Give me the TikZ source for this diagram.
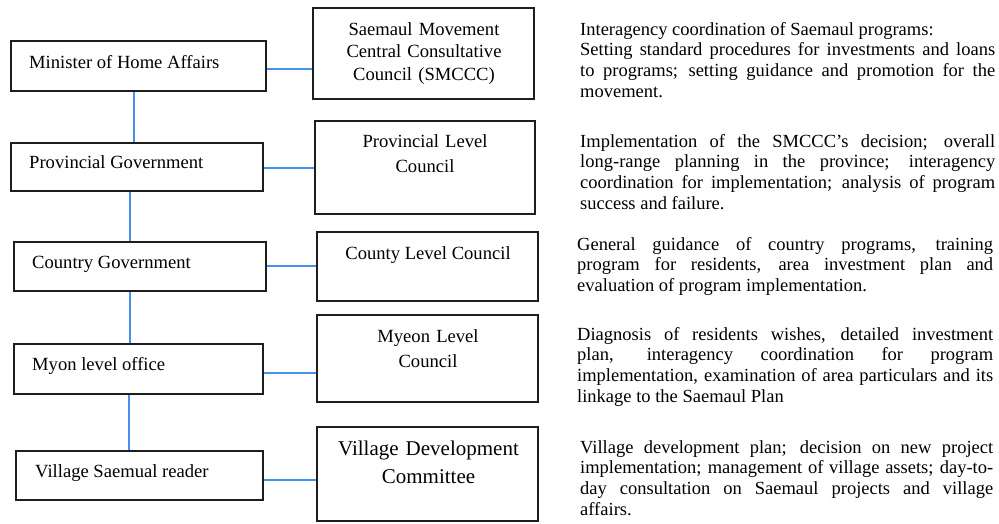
\documentclass[tikz,border=0pt]{standalone}
\usepackage{fontspec}
\setmainfont{Liberation Serif}
\usetikzlibrary{calc}
\definecolor{conblue}{RGB}{70,145,235}
\definecolor{boxgray}{RGB}{30,30,30}
\newcommand{\parset}{\parindent=0pt\tolerance=10000\hyphenpenalty=10000\emergencystretch=20pt\strut}
\begin{document}
\begin{tikzpicture}[x=1pt,y=-1pt]
\tikzset{
  box/.style={draw=boxgray,line width=1.9pt,inner sep=0pt},
  conn/.style={draw=conblue,line width=2.2pt},
  ltext/.style={anchor=base west,inner sep=0pt,font=\fontsize{18.6}{21}\selectfont},
  btext/.style={anchor=north,inner sep=0pt,align=center,text width=215pt,font=\fontsize{18.6}{#1}\selectfont},
  ptext/.style={anchor=north west,inner sep=0pt,align=justify,text width=#1,font=\fontsize{18.5}{20.7}\selectfont}
}
\useasboundingbox[fill=white] (0,0) rectangle (999,523);

% left boxes
\node[box,minimum width=255pt,minimum height=50pt] (l1) at (138.5,66) {};
\node[box,minimum width=252pt,minimum height=48pt] (l2) at (137,167) {};
\node[box,minimum width=252pt,minimum height=49pt] (l3) at (140,266.5) {};
\node[box,minimum width=249pt,minimum height=50pt] (l4) at (138.5,369) {};
\node[box,minimum width=247pt,minimum height=49pt] (l5) at (139.5,475.5) {};

\node[ltext] (t1) at (29,68) {Minister of Home Affairs};
\node[ltext] (t2) at (29,168) {Provincial Government};
\node[ltext] (t3) at (32,268) {Country Government};
\node[ltext] (t4) at (32,370) {Myon level office};
\node[ltext] (t5) at (35,477) {Village Saemual reader};

% right boxes
\node[box,minimum width=221pt,minimum height=91pt] (r1) at (423.5,53.5) {};
\node[box,minimum width=220pt,minimum height=93pt] (r2) at (425,167.5) {};
\node[box,minimum width=221pt,minimum height=69pt] (r3) at (427.5,266.5) {};
\node[box,minimum width=221pt,minimum height=87pt] (r4) at (427.5,358.5) {};
\node[box,minimum width=221pt,minimum height=94pt] (r5) at (427.5,474) {};

\node[btext=22.5] (u1) at (424,19.25) {\strut Saemaul Movement\\Central Consultative\\Council (SMCCC)};
\node[btext=25] (u2) at (425,129.5) {\strut Provincial Level\\Council};
\node[anchor=base,inner sep=0pt,font=\fontsize{18.6}{21}\selectfont] (u3) at (428,259) {County Level Council};
\node[btext=25] (u4) at (428,324.5) {\strut Myeon Level\\Council};
\node[btext=28,font=\fontsize{21}{28}\selectfont] (u5) at (428.5,435.4) {\strut Village Development\\Committee};

% connectors
\draw[conn] ([yshift=-3pt]l1.east) -- ([yshift=-3pt]l1.east -| r1.west);
\draw[conn] ([yshift=-1pt]l2.east) -- ([yshift=-1pt]l2.east -| r2.west);
\draw[conn] ([yshift=0.5pt]l3.east) -- ([yshift=0.5pt]l3.east -| r3.west);
\draw[conn] ([yshift=-4pt]l4.east) -- ([yshift=-4pt]l4.east -| r4.west);
\draw[conn] ([yshift=-4.5pt]l5.east) -- ([yshift=-4.5pt]l5.east -| r5.west);

\draw[conn] ([xshift=-4.5pt]l1.south) -- ([xshift=-4.5pt]l1.south |- l2.north);
\draw[conn] ([xshift=-7pt]l2.south) -- ([xshift=-7pt]l2.south |- l3.north);
\draw[conn] ([xshift=-10pt]l3.south) -- ([xshift=-10pt]l3.south |- l4.north);
\draw[conn] ([xshift=-9.5pt]l4.south) -- ([xshift=-9.5pt]l4.south |- l5.north);

% descriptions
\node[ptext=415pt] (p1) at (580,20.5) {\parset Interagency coordination of Saemaul programs:\\ Setting standard procedures for investments and loans\linebreak to programs; setting guidance and promotion for the\linebreak movement.};
\node[ptext=415pt] (p2) at (580,132.5) {\parset Implementation of the SMCCC’s decision; overall\linebreak long-range planning in the province; interagency\linebreak coordination for implementation; analysis of program\linebreak success and failure.};
\node[ptext=416pt] (p3) at (577,235.5) {\parset General guidance of country programs, training\linebreak program for residents, area investment plan and\linebreak evaluation of program implementation.};
\node[ptext=416pt] (p4) at (577,325.5) {\parset Diagnosis of residents wishes, detailed investment\linebreak plan, interagency coordination for program\linebreak implementation, examination of area particulars and its\linebreak linkage to the Saemaul Plan};
\node[ptext=413pt] (p5) at (580,438.5) {\parset Village development plan; decision on new project\linebreak implementation; management of village assets; day-to-\linebreak day consultation on Saemaul projects and village\linebreak affairs.};
\end{tikzpicture}
\end{document}
